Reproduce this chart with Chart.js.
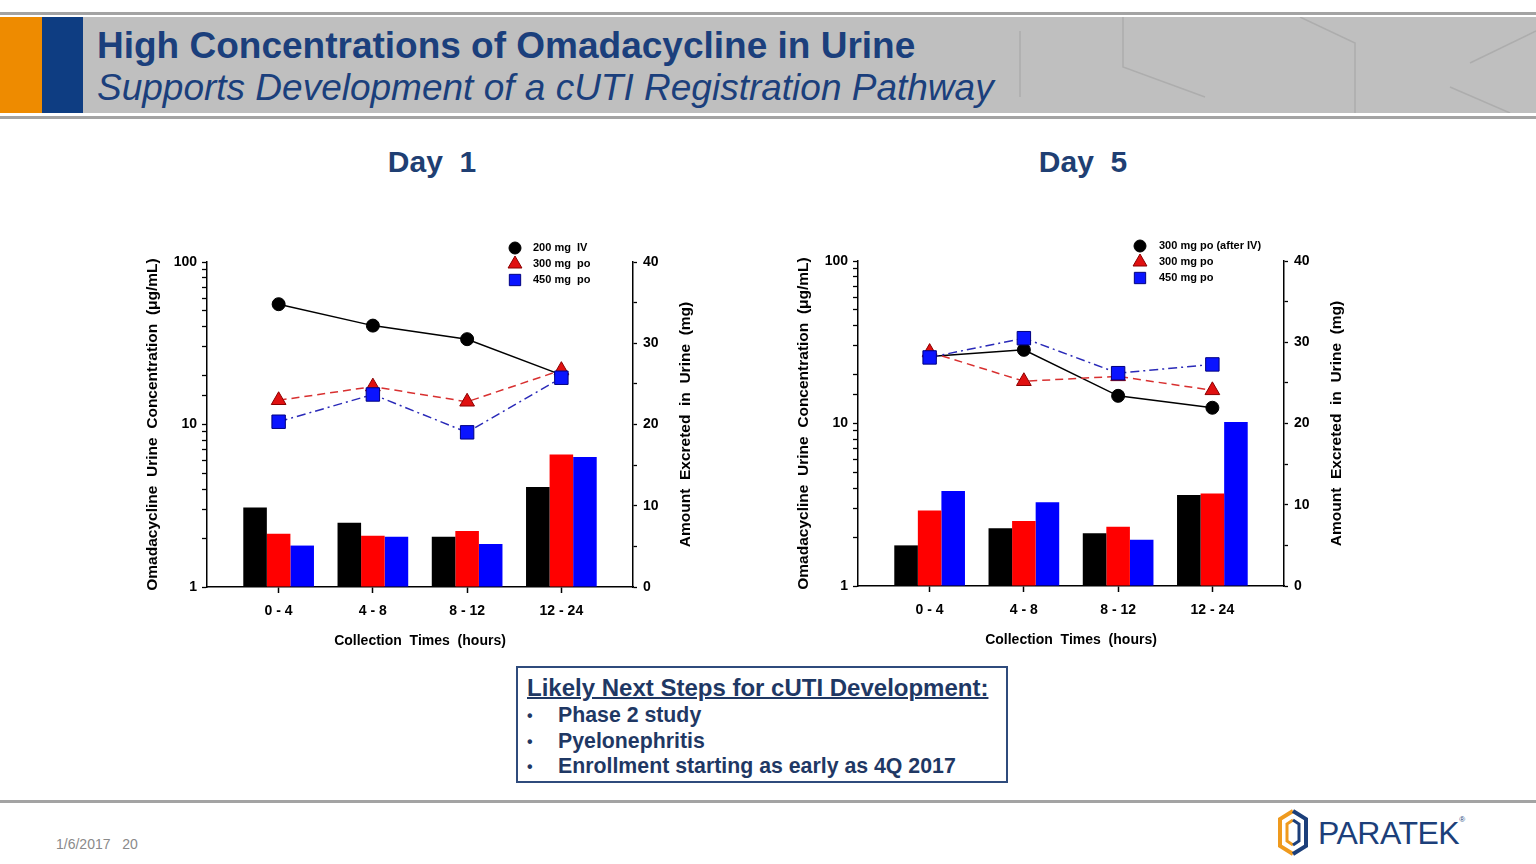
<!DOCTYPE html>
<html lang="en">
<head>
    <meta charset="UTF-8">
    <title>High Concentrations of Omadacycline in Urine</title>
    <style>
        body {
            margin: 0;
            width: 1536px;
            height: 864px;
            position: relative;
            overflow: hidden;
            background: #fff;
            font-family: Arial, "Liberation Sans", sans-serif;
        }
        .abs { position: absolute; }
        .title {
            left: 97px;
            color: #1b3f7c;
            font-size: 37px;
            line-height: 37px;
            white-space: nowrap;
        }
        .day {
            top: 145px;
            width: 200px;
            text-align: center;
            font-size: 30px;
            font-weight: bold;
            color: #1f3f73;
            white-space: pre;
        }
        .chart-box { width: 600px; height: 430px; }
        .steps {
            left: 516px;
            top: 666px;
            width: 488px;
            height: 113px;
            border: 2px solid #2f4b7c;
            color: #1f3864;
            font-weight: bold;
        }
        .steps h3 {
            margin: 0;
            position: absolute;
            left: 9px;
            top: 6px;
            font-size: 24px;
            line-height: 28px;
            text-decoration: underline;
            text-decoration-thickness: 2px;
        }
        .steps ul {
            list-style: none;
            margin: 0;
            padding: 0;
            position: absolute;
            left: 9px;
            top: 35px;
            font-size: 21.3px;
            line-height: 25.5px;
        }
        .steps li { position: relative; padding-left: 31px; white-space: nowrap; }
        .steps li::before {
            content: "\2022";
            position: absolute;
            left: 0;
            font-size: 16px;
        }
    </style>
    <script src="https://cdn.jsdelivr.net/npm/chart.js"></script>
</head>
<body>
    <!-- header -->
    <div class="abs" style="left:0;top:12px;width:1536px;height:3px;background:#a3a3a3"></div>
    <div class="abs" style="left:0;top:17px;width:1536px;height:96px;background:#bfbfbf"></div>
    <svg class="abs" style="left:0;top:17px" width="1536" height="96">
        <g stroke="#adadad" stroke-width="1.5" fill="none">
            <line x1="1020" y1="14" x2="1020" y2="80"/>
            <polyline points="1123,0 1123,50 1205,80"/>
            <polyline points="1300,0 1355,26 1355,96"/>
            <polyline points="1536,14 1470,46"/>
            <polyline points="1450,70 1510,96"/>
        </g>
    </svg>
    <div class="abs" style="left:0;top:17px;width:42px;height:96px;background:#ee8b00"></div>
    <div class="abs" style="left:42px;top:17px;width:41px;height:96px;background:#0e3d82"></div>
    <div class="abs" style="left:0;top:116px;width:1536px;height:3px;background:#a3a3a3"></div>
    <div class="abs title" style="top:27px;font-weight:bold">High Concentrations of Omadacycline in Urine</div>
    <div class="abs title" style="top:69px;font-style:italic">Supports Development of a cUTI Registration Pathway</div>

    <!-- panel titles -->
    <div class="abs day" style="left:332px">Day  1</div>
    <div class="abs day" style="left:983px">Day  5</div>

    <div class="abs chart-box" style="left:120px;top:230px"><canvas id="day1" width="600" height="430"></canvas></div>
    <div class="abs chart-box" style="left:771px;top:229px"><canvas id="day5" width="600" height="430"></canvas></div>

    <!-- next steps box -->
    <div class="abs steps">
        <h3>Likely Next Steps for cUTI Development:</h3>
        <ul>
            <li>Phase 2 study</li>
            <li>Pyelonephritis</li>
            <li>Enrollment starting as early as 4Q 2017</li>
        </ul>
    </div>

    <!-- footer -->
    <div class="abs" style="left:0;top:800px;width:1536px;height:3px;background:#a3a3a3"></div>
    <div class="abs" style="left:56px;top:836px;font-size:14px;color:#8a8a8a;white-space:pre">1/6/2017   20</div>
    <svg class="abs" style="left:1276px;top:808px" width="36" height="50">
        <polyline points="17,3 4,11 4,38 17,46" fill="none" stroke="#ef9a1e" stroke-width="4"/>
        <polyline points="17,3 30,11 30,38 17,46" fill="none" stroke="#1c3f7a" stroke-width="4"/>
        <polyline points="17,12 11,16 11,33 17,37" fill="none" stroke="#ef9a1e" stroke-width="3"/>
        <polyline points="17,12 23,16 23,33 17,37" fill="none" stroke="#1c3f7a" stroke-width="3"/>
    </svg>
    <div class="abs" style="left:1318px;top:815px;font-size:32px;color:#1c3f7a;letter-spacing:-0.5px">PARATEK<span style="font-size:8px;vertical-align:top">&reg;</span></div>

    <script>
        const categories = ['0 - 4', '4 - 8', '8 - 12', '12 - 24'];

        const day1Labels = ['200 mg  IV', '300 mg  po', '450 mg  po'];
        const day1ConcIV200 = [55, 40.6, 33.5, 20.2];
        const day1ConcPo300 = [14.1, 17.1, 13.8, 21.6];
        const day1ConcPo450 = [10.4, 15.3, 8.95, 19.4];
        const day1AmtIV200 = [9.8, 7.9, 6.2, 12.3];
        const day1AmtPo300 = [6.55, 6.3, 6.9, 16.3];
        const day1AmtPo450 = [5.1, 6.2, 5.3, 16.0];

        const day5Labels = ['300 mg po (after IV)', '300 mg po', '450 mg po'];
        const day5ConcPo300AfterIV = [25.8, 28.4, 14.8, 12.5];
        const day5ConcPo300 = [27.5, 18.2, 19.5, 16.0];
        const day5ConcPo450 = [25.5, 33.5, 20.4, 23.1];
        const day5AmtPo300AfterIV = [5.0, 7.1, 6.5, 11.2];
        const day5AmtPo300 = [9.3, 8.0, 7.3, 11.4];
        const day5AmtPo450 = [11.7, 10.3, 5.7, 20.2];

        const concTicks = [1, 10, 100];
        const amtTicks = [0, 10, 20, 30, 40];

        const FONT = 'Arial, "Liberation Sans", sans-serif';

        // series look: circle / triangle / square, like the slide
        const looks = [
            { style: 'circle', radius: 6.5, fill: '#000000', border: '#000000', line: '#000000', dash: [], bar: '#000000' },
            { style: 'triangle', radius: 8.5, fill: '#e01010', border: '#8a0000', line: '#d83030', dash: [8, 5], bar: '#ff0000' },
            { style: 'rect', radius: 9.5, fill: '#0a14ff', border: '#000080', line: '#2a2ab8', dash: [9, 4, 2, 4], bar: '#0000ff' }
        ];

        const toXY = arr => arr.map((v, i) => ({ x: i, y: v }));

        function drawMarker(ctx, look, x, y) {
            const r = look.radius;
            ctx.beginPath();
            if (look.style === 'circle') {
                ctx.arc(x, y, r, 0, Math.PI * 2);
            } else if (look.style === 'triangle') {
                ctx.moveTo(x, y - r);
                ctx.lineTo(x + r * 0.866, y + r * 0.5);
                ctx.lineTo(x - r * 0.866, y + r * 0.5);
                ctx.closePath();
            } else {
                const h = r * Math.SQRT1_2;
                ctx.rect(x - h, y - h, h * 2, h * 2);
            }
            ctx.fillStyle = look.fill;
            ctx.fill();
            ctx.lineWidth = 1;
            ctx.strokeStyle = look.border;
            ctx.stroke();
        }

        // legend + right axis title (reads bottom to top, like the left one)
        const overlayPlugin = {
            id: 'overlay',
            afterDraw(chart, args, opts) {
                const ctx = chart.ctx;
                const area = chart.chartArea;
                ctx.save();
                ctx.translate(area.right + 53, (area.top + area.bottom) / 2);
                ctx.rotate(-Math.PI / 2);
                ctx.font = 'bold 15.5px ' + FONT;
                ctx.fillStyle = '#000';
                ctx.textAlign = 'center';
                ctx.textBaseline = 'middle';
                ctx.fillText('Amount  Excreted  in  Urine  (mg)', 0, 0);
                ctx.restore();

                ctx.save();
                ctx.font = 'bold 11px ' + FONT;
                ctx.textBaseline = 'middle';
                ctx.fillStyle = '#000';
                opts.labels.forEach((label, i) => {
                    const y = opts.y + i * 16;
                    const look = Object.assign({}, looks[i], { radius: i === 0 ? 6 : 8 });
                    drawMarker(ctx, look, opts.x, y);
                    ctx.fillStyle = '#000';
                    ctx.fillText(label, opts.textX, y);
                });
                ctx.restore();
            }
        };

        function makeChart(id, labels, conc, amt, legendPos) {
            const datasets = [];
            conc.forEach((series, i) => {
                const look = looks[i];
                datasets.push({
                    type: 'line',
                    label: labels[i],
                    data: toXY(series),
                    yAxisID: 'yL',
                    order: 3 - i,
                    borderColor: look.line,
                    borderWidth: 1.5,
                    borderDash: look.dash,
                    pointStyle: look.style,
                    pointRadius: look.radius,
                    pointBackgroundColor: look.fill,
                    pointBorderColor: look.border,
                    pointBorderWidth: 1,
                    tension: 0
                });
            });
            amt.forEach((series, i) => {
                datasets.push({
                    type: 'bar',
                    label: labels[i],
                    data: toXY(series),
                    yAxisID: 'yR',
                    order: 10,
                    backgroundColor: looks[i].bar,
                    borderWidth: 0,
                    categoryPercentage: 0.75,
                    barPercentage: 1.0
                });
            });

            const tickFont = { family: FONT, size: 14, weight: 'bold' };
            const axisBorder = { display: true, color: '#000', width: 1.5 };

            new Chart(document.getElementById(id), {
                type: 'bar',
                data: { datasets },
                options: {
                    responsive: false,
                    animation: false,
                    events: [],
                    layout: { padding: { top: 32, left: 0, right: 0, bottom: 0 } },
                    plugins: {
                        legend: { display: false },
                        tooltip: { enabled: false },
                        overlay: legendPos
                    },
                    scales: {
                        x: {
                            type: 'linear',
                            min: -0.76,
                            max: 3.76,
                            offset: false,
                            afterBuildTicks: s => { s.ticks = categories.map((c, i) => ({ value: i })); },
                            afterFit: s => { s.height = 73; },
                            border: axisBorder,
                            grid: { display: true, offset: false, drawOnChartArea: false, tickLength: 6, tickColor: '#000', tickWidth: 1.5 },
                            ticks: {
                                autoSkip: false,
                                maxRotation: 0,
                                padding: 10,
                                color: '#000',
                                font: tickFont,
                                callback: v => categories[v]
                            },
                            title: {
                                display: true,
                                text: 'Collection  Times  (hours)',
                                color: '#000',
                                font: { family: FONT, size: 14, weight: 'bold' },
                                padding: { top: 0, bottom: 10 }
                            }
                        },
                        yL: {
                            type: 'logarithmic',
                            position: 'left',
                            min: 1,
                            max: 100,
                            afterFit: s => { s.width = 87; },
                            border: axisBorder,
                            grid: { drawOnChartArea: false, tickLength: 5, tickColor: '#000', tickWidth: 1.3 },
                            ticks: {
                                autoSkip: false,
                                padding: 5,
                                color: '#000',
                                font: tickFont,
                                callback: v => concTicks.includes(v) ? String(v) : ''
                            },
                            title: {
                                display: true,
                                text: 'Omadacycline  Urine  Concentration  (\u03bcg/mL)',
                                color: '#000',
                                font: { family: FONT, size: 15.5, weight: 'bold' },
                                padding: { top: 23, bottom: 0 }
                            }
                        },
                        yR: {
                            type: 'linear',
                            position: 'right',
                            min: 0,
                            max: 40,
                            afterFit: s => { s.width = 87; },
                            border: axisBorder,
                            grid: { drawOnChartArea: false, tickLength: 4, tickColor: '#000', tickWidth: 1.3 },
                            ticks: {
                                stepSize: 5,
                                autoSkip: false,
                                padding: 6,
                                color: '#000',
                                font: tickFont,
                                callback: v => amtTicks.includes(v) ? String(v) : ''
                            }
                        }
                    }
                },
                plugins: [overlayPlugin]
            });
        }

        makeChart('day1', day1Labels,
            [day1ConcIV200, day1ConcPo300, day1ConcPo450],
            [day1AmtIV200, day1AmtPo300, day1AmtPo450],
            { labels: day1Labels, x: 395, textX: 413, y: 18 });

        makeChart('day5', day5Labels,
            [day5ConcPo300AfterIV, day5ConcPo300, day5ConcPo450],
            [day5AmtPo300AfterIV, day5AmtPo300, day5AmtPo450],
            { labels: day5Labels, x: 369, textX: 388, y: 17 });
    </script>
</body>
</html>
